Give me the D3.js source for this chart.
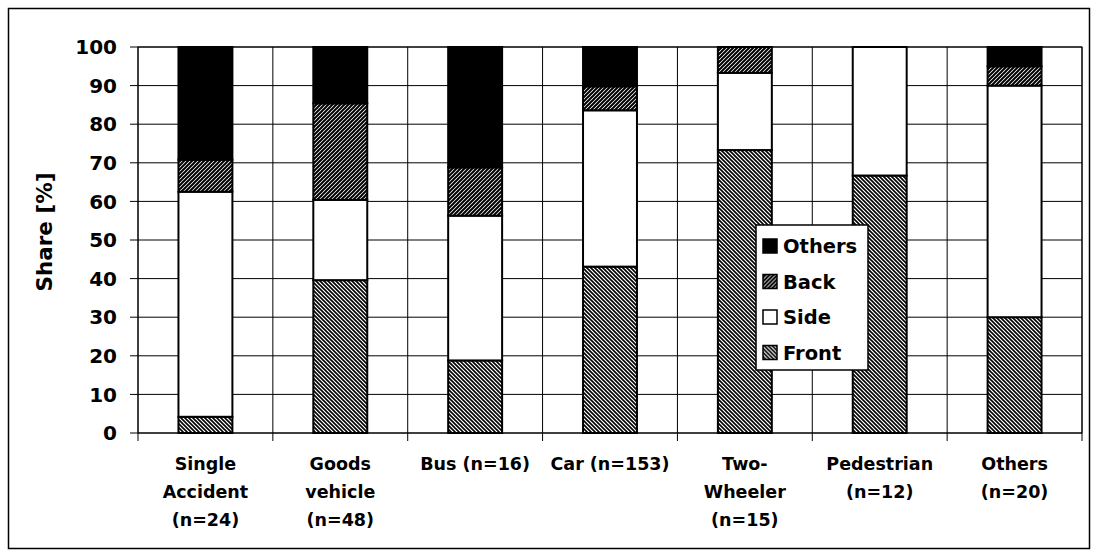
<!DOCTYPE html>
<html>
<head>
<meta charset="utf-8">
<script src="https://cdn.jsdelivr.net/npm/d3@7"></script>
<style>
  body { margin: 0; background: #fff; }
  text { font-family: "DejaVu Sans", sans-serif; font-weight: bold; fill: #000; }
</style>
</head>
<body>
<div id="chart"></div>
<script>
(function(){
var width = 1096,
    height = 552;

// categories and shares [%] per impact direction
var categories = [
  ["Single", "Accident", "(n=24)"],
  ["Goods", "vehicle", "(n=48)"],
  ["Bus (n=16)"],
  ["Car (n=153)"],
  ["Two-", "Wheeler", "(n=15)"],
  ["Pedestrian", "(n=12)"],
  ["Others", "(n=20)"]
];
var front  = [4.2, 39.6, 18.8, 43.1, 73.3, 66.7, 30];
var side   = [58.3, 20.8, 37.5, 40.5, 20.0, 33.3, 60];
var back   = [8.3, 25.0, 12.5, 6.2, 6.7, 0, 5];
var others = [29.2, 14.6, 31.2, 10.2, 0, 0, 5];
var yTicks = [0, 10, 20, 30, 40, 50, 60, 70, 80, 90, 100];

var series = [
  { name: "Front", values: front, fill: "url(#hatchFront)" },
  { name: "Side", values: side, fill: "#fff" },
  { name: "Back", values: back, fill: "url(#hatchBack)" },
  { name: "Others", values: others, fill: "#000" }
];

var margin = { top: 47, left: 138, right: 14, bottom: 119 };
var plotW = width - margin.left - margin.right,
    plotH = height - margin.top - margin.bottom;

var svg = d3.select('#chart')
  .append('svg')
  .attr('width', width)
  .attr('height', height);

var defs = svg.append('defs');
var pf = defs.append('pattern')
  .attr('id', 'hatchFront')
  .attr('patternUnits', 'userSpaceOnUse')
  .attr('width', 4).attr('height', 4);
pf.append('rect').attr('width', 4).attr('height', 4).attr('fill', '#fff');
pf.append('path')
  .attr('d', 'M-1,-1 L5,5 M-1,3 L1,5 M3,-1 L5,1')
  .attr('stroke', '#000').attr('stroke-width', 1.6);

var pb = defs.append('pattern')
  .attr('id', 'hatchBack')
  .attr('patternUnits', 'userSpaceOnUse')
  .attr('width', 4).attr('height', 4);
pb.append('rect').attr('width', 4).attr('height', 4).attr('fill', '#fff');
pb.append('path')
  .attr('d', 'M-1,5 L5,-1 M-1,1 L1,-1 M3,5 L5,3')
  .attr('stroke', '#000').attr('stroke-width', 2);

// outer frame
svg.append('rect')
  .attr('x', 8.5).attr('y', 8.5)
  .attr('width', 1081).attr('height', 540)
  .attr('fill', 'none')
  .attr('stroke', '#000')
  .attr('stroke-width', 1.5);

var g = svg.append('g')
  .attr('transform', 'translate(' + margin.left + ',' + margin.top + ')');

var x = d3.scaleBand()
  .domain(d3.range(categories.length))
  .range([0, plotW])
  .paddingInner(0.6)
  .paddingOuter(0.3);

var y = d3.scaleLinear()
  .domain([0, 100])
  .range([plotH, 0]);

var edges = d3.range(categories.length + 1).map(function(i) { return i * plotW / categories.length; });

// horizontal grid
g.selectAll('.hgrid')
  .data(yTicks)
  .enter().append('line')
  .attr('x1', -8).attr('x2', plotW)
  .attr('y1', function(d) { return y(d); })
  .attr('y2', function(d) { return y(d); })
  .attr('stroke', '#000').attr('stroke-width', 1);

// vertical grid + ticks
g.selectAll('.vgrid')
  .data(edges)
  .enter().append('line')
  .attr('x1', function(d) { return d; })
  .attr('x2', function(d) { return d; })
  .attr('y1', 0).attr('y2', plotH + 8)
  .attr('stroke', '#000').attr('stroke-width', 1);

// y labels
g.selectAll('.ylab')
  .data(yTicks)
  .enter().append('text')
  .attr('x', -21)
  .attr('y', function(d) { return y(d); })
  .attr('dy', '0.36em')
  .attr('text-anchor', 'end')
  .style('font-size', '20px')
  .text(function(d) { return d; });

// y title
g.append('text')
  .attr('transform', 'translate(' + (-94) + ',' + (plotH / 2 - 8) + ') rotate(-90)')
  .attr('text-anchor', 'middle')
  .attr('dy', '0.36em')
  .style('font-size', '21.5px')
  .text('Share [%]');

// stacked bars
var stacked = categories.map(function(c, i) {
  var base = 0;
  return series.map(function(s) {
    var seg = { i: i, y0: base, y1: base + s.values[i], fill: s.fill };
    base += s.values[i];
    return seg;
  });
});

var bars = g.selectAll('.bar')
  .data(stacked)
  .enter().append('g');

bars.selectAll('rect')
  .data(function(d) { return d.filter(function(s) { return s.y1 - s.y0 > 0; }); })
  .enter().append('rect')
  .attr('x', function(d) { return x(d.i); })
  .attr('width', x.bandwidth())
  .attr('y', function(d) { return y(d.y1); })
  .attr('height', function(d) { return y(d.y0) - y(d.y1); })
  .attr('fill', function(d) { return d.fill; })
  .attr('stroke', '#000')
  .attr('stroke-width', 2);

// plot border
g.append('rect')
  .attr('width', plotW).attr('height', plotH)
  .attr('fill', 'none')
  .attr('stroke', '#000').attr('stroke-width', 1);

// x labels
var xl = g.selectAll('.xlab')
  .data(categories)
  .enter().append('text')
  .attr('text-anchor', 'middle')
  .style('font-size', '17.5px')
  .attr('transform', function(d, i) {
    return 'translate(' + (x(i) + x.bandwidth() / 2) + ',' + (plotH + 37) + ')';
  });
xl.selectAll('tspan')
  .data(function(d) { return d; })
  .enter().append('tspan')
  .attr('x', 0)
  .attr('y', function(d, i) { return i * 28; })
  .text(function(d) { return d; });

// legend
var lg = svg.append('g').attr('transform', 'translate(756,225)');
lg.append('rect')
  .attr('width', 112).attr('height', 145)
  .attr('fill', '#fff')
  .attr('stroke', '#000').attr('stroke-width', 1.5);
var items = series.slice().reverse();
var li = lg.selectAll('.li')
  .data(items)
  .enter().append('g')
  .attr('transform', function(d, i) { return 'translate(7,' + (21 + i * 35.5) + ')'; });
li.append('rect')
  .attr('x', 0).attr('y', -7)
  .attr('width', 14).attr('height', 14)
  .attr('fill', function(d) { return d.fill; })
  .attr('stroke', '#000').attr('stroke-width', 1.5);
li.append('text')
  .attr('x', 20)
  .attr('dy', '0.36em')
  .style('font-size', '19.5px')
  .text(function(d) { return d.name; });

})()
</script>
</body>
</html>
